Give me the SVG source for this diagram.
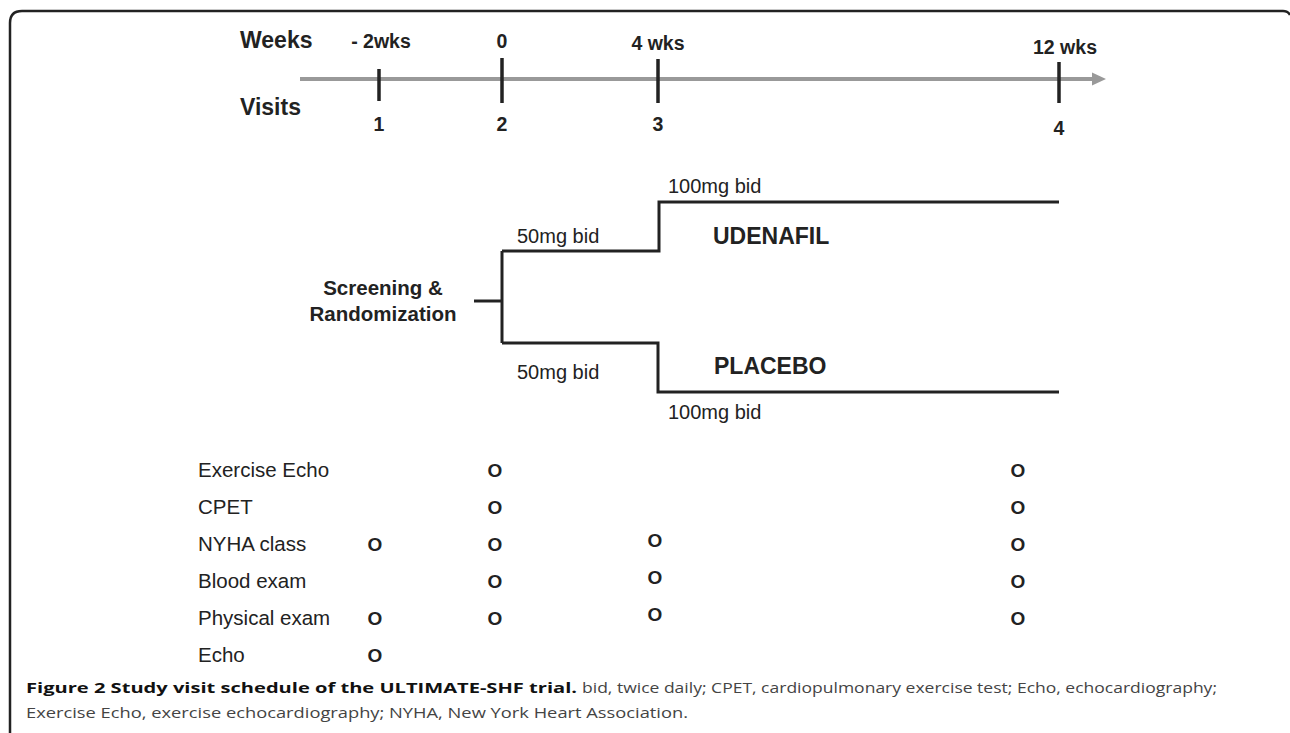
<svg xmlns="http://www.w3.org/2000/svg" width="1290" height="733" viewBox="0 0 1290 733">
<defs>
<style>
.b{font-family:"Liberation Sans",Arial,sans-serif;font-weight:bold;fill:#222}
.r{font-family:"Liberation Sans",Arial,sans-serif;fill:#222}
.ln{fill:none;stroke:#222;stroke-width:3}
.tk{stroke:#222;stroke-width:3.5}
.o{font-family:"Liberation Sans",Arial,sans-serif;font-weight:bold;fill:#222;font-size:19px;text-anchor:middle}
.cap{font-family:"Open Sans","DejaVu Sans",sans-serif;font-size:15px}
</style>
</defs>
<rect width="1290" height="733" fill="#fff"/>
<path d="M10,733 L10,23 Q10,11 22,11 L1283,11 Q1288,11 1290,15" fill="none" stroke="#222" stroke-width="2.5"/>

<g id="timeline">
<line x1="300" y1="79" x2="1094" y2="79" stroke="#999" stroke-width="4"/>
<polygon points="1092,72.5 1106,79 1092,85.5" fill="#999"/>
<line class="tk" x1="379" y1="69" x2="379" y2="101"/>
<line class="tk" x1="502" y1="58" x2="502" y2="103"/>
<line class="tk" x1="658" y1="59" x2="658" y2="103"/>
<line class="tk" x1="1059" y1="62" x2="1059" y2="103"/>
<text class="b" x="240" y="48" font-size="23">Weeks</text>
<text class="b" x="240" y="115" font-size="23">Visits</text>
<text class="b" x="381" y="48" font-size="19.5" text-anchor="middle">- 2wks</text>
<text class="b" x="502" y="48" font-size="19.5" text-anchor="middle">0</text>
<text class="b" x="658" y="50" font-size="19.5" text-anchor="middle">4 wks</text>
<text class="b" x="1065" y="54" font-size="19.5" text-anchor="middle">12 wks</text>
<text class="b" x="379" y="131" font-size="19.5" text-anchor="middle">1</text>
<text class="b" x="502" y="131" font-size="19.5" text-anchor="middle">2</text>
<text class="b" x="658" y="131" font-size="19.5" text-anchor="middle">3</text>
<text class="b" x="1059" y="135" font-size="19.5" text-anchor="middle">4</text>
</g>

<g id="screening">
<text class="b" x="383" y="295" font-size="20.5" text-anchor="middle">Screening &amp;</text>
<text class="b" x="383" y="321" font-size="20.5" text-anchor="middle">Randomization</text>
</g>

<g id="connectors">
<path class="ln" d="M474,301 H502"/>
<path class="ln" d="M502,251 V343"/>
<path class="ln" d="M502,251 H659 V202 H1059"/>
<path class="ln" d="M502,343 H658 V392 H1059"/>
</g>

<g id="udenafil">
<text class="r" x="668" y="193" font-size="20">100mg bid</text>
<text class="r" x="517" y="243" font-size="20">50mg bid</text>
<text class="b" x="713" y="244" font-size="23">UDENAFIL</text>
</g>

<g id="placebo">
<text class="b" x="714" y="374" font-size="23">PLACEBO</text>
<text class="r" x="517" y="379" font-size="20">50mg bid</text>
<text class="r" x="668" y="419" font-size="20">100mg bid</text>
</g>

<g id="table">
<text class="r" x="198" y="477" font-size="20.5">Exercise Echo</text>
<text class="r" x="198" y="514" font-size="20.5">CPET</text>
<text class="r" x="198" y="551" font-size="20.5">NYHA class</text>
<text class="r" x="198" y="588" font-size="20.5">Blood exam</text>
<text class="r" x="198" y="625" font-size="20.5">Physical exam</text>
<text class="r" x="198" y="662" font-size="20.5">Echo</text>

<text class="o" x="495" y="477">O</text>
<text class="o" x="1018" y="477">O</text>
<text class="o" x="495" y="514">O</text>
<text class="o" x="1018" y="514">O</text>
<text class="o" x="375" y="551">O</text>
<text class="o" x="495" y="551">O</text>
<text class="o" x="655" y="547">O</text>
<text class="o" x="1018" y="551">O</text>
<text class="o" x="495" y="588">O</text>
<text class="o" x="655" y="584">O</text>
<text class="o" x="1018" y="588">O</text>
<text class="o" x="375" y="625">O</text>
<text class="o" x="495" y="625">O</text>
<text class="o" x="655" y="621">O</text>
<text class="o" x="1018" y="625">O</text>
<text class="o" x="375" y="662">O</text>
</g>

<g id="caption">
<text class="cap" x="26" y="693" font-weight="bold" fill="#111" textLength="551" lengthAdjust="spacingAndGlyphs">Figure 2 Study visit schedule of the ULTIMATE-SHF trial.</text>
<text class="cap" x="582" y="693" fill="#444" textLength="635" lengthAdjust="spacingAndGlyphs">bid, twice daily; CPET, cardiopulmonary exercise test; Echo, echocardiography;</text>
<text class="cap" x="26" y="718" fill="#444" textLength="662" lengthAdjust="spacingAndGlyphs">Exercise Echo, exercise echocardiography; NYHA, New York Heart Association.</text>
</g>
</svg>
